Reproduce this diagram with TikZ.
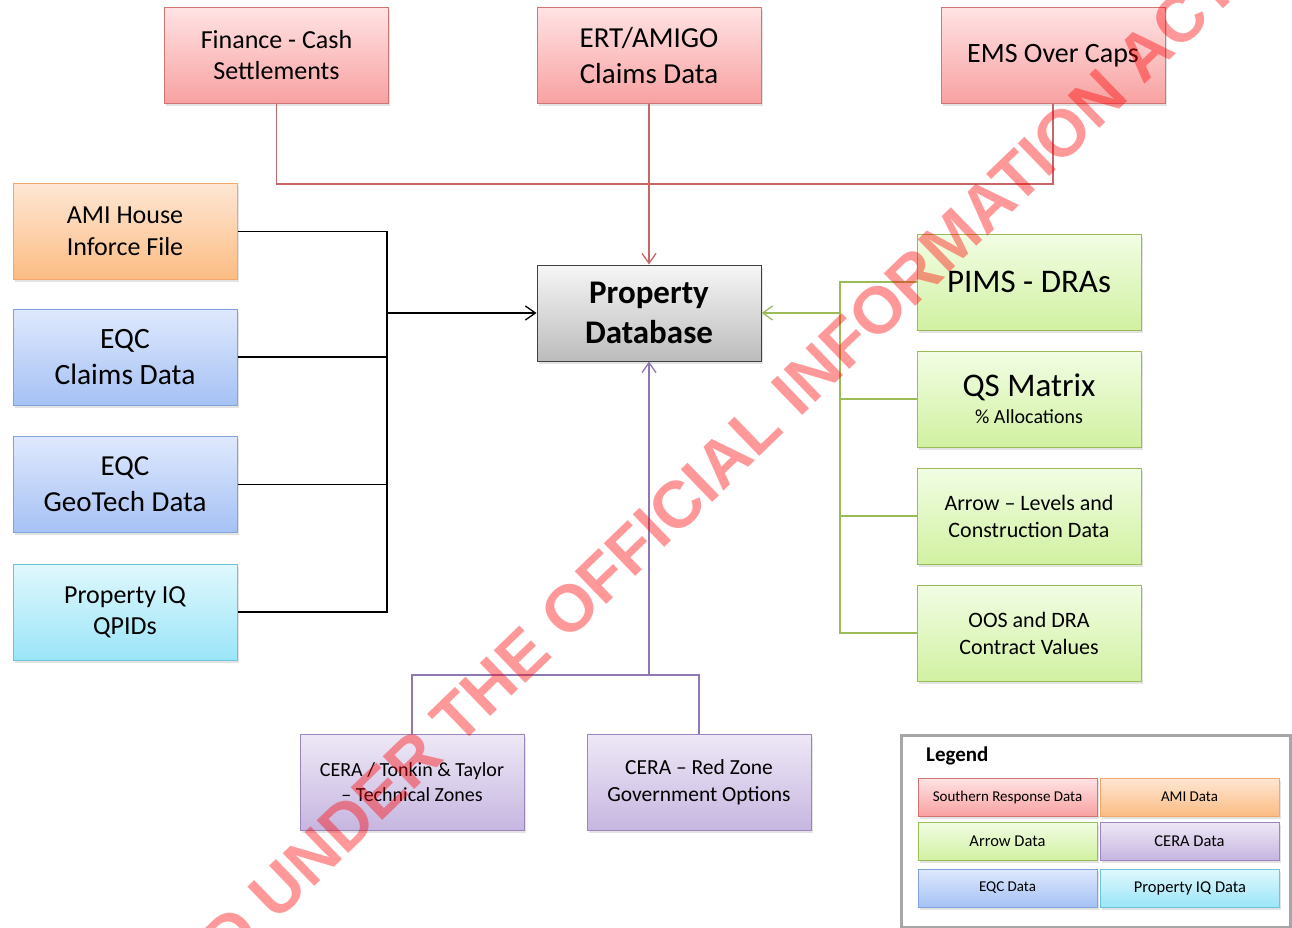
\documentclass[tikz,border=0pt]{standalone}
\usepackage{fontspec}
\setmainfont{Carlito}
\newfontfamily\wmfont{Liberation Sans}
\usepackage{tikz}
\usetikzlibrary{arrows.meta,shadows,calc}

\definecolor{redtop}{HTML}{FFE3E4}
\definecolor{redbot}{HTML}{F8A1A1}
\definecolor{redbd}{HTML}{D07474}
\definecolor{ortop}{HTML}{FEE7D4}
\definecolor{orbot}{HTML}{FBBC83}
\definecolor{orbd}{HTML}{F2A86C}
\definecolor{grtop}{HTML}{F2FDE4}
\definecolor{grbot}{HTML}{D1F1A1}
\definecolor{grbd}{HTML}{9BBB59}
\definecolor{pptop}{HTML}{EEE8F6}
\definecolor{ppbot}{HTML}{C6B6E0}
\definecolor{ppbd}{HTML}{9A86BC}
\definecolor{bltop}{HTML}{DFE9FD}
\definecolor{blbot}{HTML}{A5C1F4}
\definecolor{blbd}{HTML}{7FA3DA}
\definecolor{cytop}{HTML}{E0F8FD}
\definecolor{cybot}{HTML}{9AE5F8}
\definecolor{cybd}{HTML}{6CC4DA}
\definecolor{gytop}{HTML}{F6F6F6}
\definecolor{gybot}{HTML}{BCBCBC}
\definecolor{redln}{HTML}{C86666}
\definecolor{purln}{HTML}{8E78B4}

\newcommand{\setfs}[2]{\fontsize{#1}{#2}\selectfont}

\begin{document}
\begin{tikzpicture}[x=1pt, y=-1pt, >={Straight Barb[length=10pt,width=14pt]},
    box/.style={draw, line width=1pt, align=center, inner sep=0pt,
        minimum width=224pt, minimum height=96pt,
        drop shadow={shadow xshift=1.5pt, shadow yshift=-2.5pt, opacity=0.22}},
    legbox/.style={box, minimum width=179pt, minimum height=38pt},
    srcol/.style={draw=redbd, top color=redtop, bottom color=redbot},
    amicol/.style={draw=orbd, top color=ortop, bottom color=orbot},
    arrcol/.style={draw=grbd, top color=grtop, bottom color=grbot},
    ceracol/.style={draw=ppbd, top color=pptop, bottom color=ppbot},
    eqccol/.style={draw=blbd, top color=bltop, bottom color=blbot},
    piqcol/.style={draw=cybd, top color=cytop, bottom color=cybot},
    dbcol/.style={draw=black!75, top color=gytop, bottom color=gybot},
    link/.style={line width=1.3pt}]
    \useasboundingbox (0,0) rectangle (1292,928);

    % Southern Response sources
    \node[box, srcol, font=\setfs{26}{31}] (fin) at (276.5,55.5) {Finance - Cash\\Settlements};
    \node[box, srcol, font=\setfs{29}{36}] (ert) at (649,55.5) {ERT/AMIGO\\Claims Data};
    \node[box, srcol, font=\setfs{28}{34}] (ems) at (1053,55.5) {EMS Over Caps};

    % left column
    \node[box, amicol, font=\setfs{26}{32}] (ami) at (125,231.5) {AMI House\\Inforce File};
    \node[box, eqccol, font=\setfs{29.5}{36}] (eqcc) at (125,357) {EQC\\Claims Data};
    \node[box, eqccol, font=\setfs{29}{36}] (eqcg) at (125,484.5) {EQC\\GeoTech Data};
    \node[box, piqcol, font=\setfs{26}{31}] (piq) at (125,612) {Property IQ\\QPIDs};

    % the database
    \node[box, dbcol, font=\setfs{33}{40}\bfseries] (db) at (649,313) {Property\\Database};

    % Arrow sources
    \node[box, arrcol, font=\setfs{33}{38}] (pims) at (1029,282) {PIMS - DRAs};
    \node[box, arrcol, font=\setfs{33}{38}] (qs) at (1029,399) {QS Matrix\\[-11pt]{\setfs{20}{24}\% Allocations}};
    \node[box, arrcol, font=\setfs{22}{27}] (arr) at (1029,516) {Arrow – Levels and\\Construction Data};
    \node[box, arrcol, font=\setfs{22}{27}] (oos) at (1029,633) {OOS and DRA\\Contract Values};

    % CERA sources
    \node[box, ceracol, font=\setfs{20}{25}] (ton) at (412,782.5) {CERA / Tonkin \& Taylor\\– Technical Zones};
    \node[box, ceracol, font=\setfs{21.5}{27}] (rz) at (699,782.5) {CERA – Red Zone\\Government Options};

    % connectors
    \coordinate (redbus) at (649,184);
    \coordinate (blkbus) at (387,313);
    \coordinate (grnbus) at (840,313);
    \coordinate (purbus) at (649,675);

    \draw[link, redln] (fin.south) |- (redbus) -| (ems.south);
    \draw[link, redln, ->] (ert.south) -- (db.north);

    \draw[link] (ami.east) -| (blkbus) |- (piq.east);
    \draw[link] (eqcc.east) -- (eqcc.east -| blkbus);
    \draw[link] (eqcg.east) -- (eqcg.east -| blkbus);
    \draw[link, ->] (blkbus) -- (db.west);

    \draw[link, grbd] (pims.west) -| (grnbus) |- (oos.west);
    \draw[link, grbd] (qs.west) -- (qs.west -| grnbus);
    \draw[link, grbd] (arr.west) -- (arr.west -| grnbus);
    \draw[link, grbd, ->] (grnbus) -- (db.east);

    \draw[link, purln] (ton.north) |- (purbus) -| (rz.north);
    \draw[link, purln, ->] (purbus) -- (db.south);

    % Legend
    \node[draw=black!35, line width=3pt, minimum width=389pt, minimum height=192pt, inner sep=0pt] (leg) at (1095.5,831) {};
    \node[anchor=west, font=\setfs{21}{25}\bfseries, inner sep=0pt] (legtitle) at (926,756) {Legend};
    \node[legbox, srcol, font=\setfs{15}{18}] (lsr) at (1007.5,797) {Southern Response Data};
    \node[legbox, amicol, font=\setfs{15}{18}] (lami) at (1189.5,797) {AMI Data};
    \node[legbox, arrcol, font=\setfs{16.5}{20}] (larr) at (1007.5,841) {Arrow Data};
    \node[legbox, ceracol, font=\setfs{16.5}{20}] (lcera) at (1189.5,841) {CERA Data};
    \node[legbox, eqccol, font=\setfs{15}{18}] (leqc) at (1007.5,888) {EQC Data};
    \node[legbox, piqcol, font=\setfs{16.5}{20}] (lpiq) at (1190,888) {Property IQ Data};

    % watermark
    \begin{scope}
        \clip (0,0) rectangle (1292,928);
        \node[rotate=44, text=red, text opacity=0.4, inner sep=0pt, font=\wmfont\bfseries\setfs{66}{70}] (wm) at (607.5,572) {RELEASED UNDER THE OFFICIAL INFORMATION ACT};
    \end{scope}
\end{tikzpicture}
\end{document}
